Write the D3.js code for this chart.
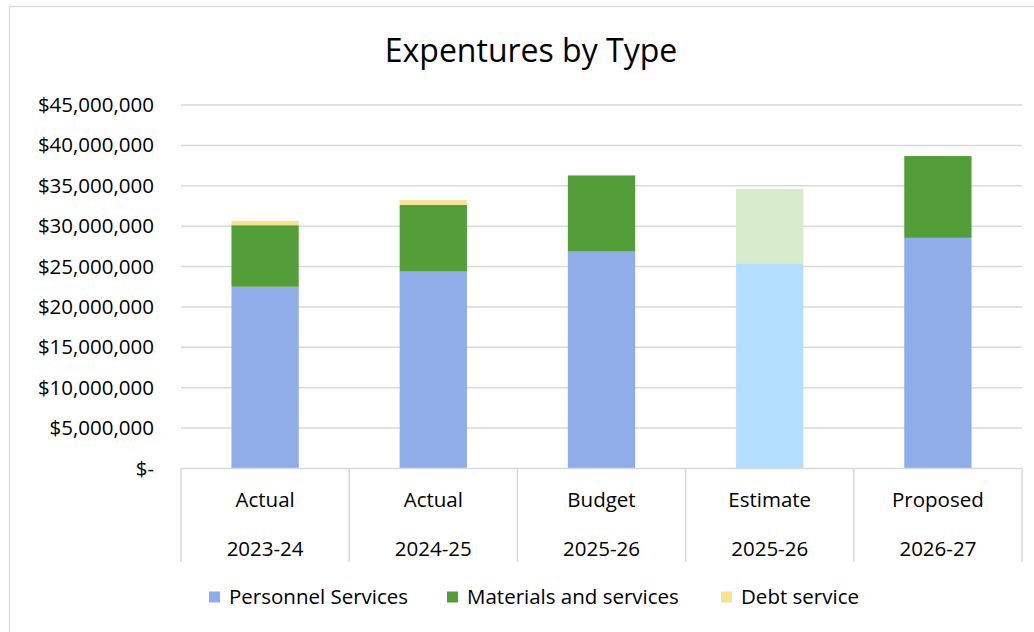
<!DOCTYPE html>
<html>
<head>
<meta charset="utf-8">
<script src="https://cdn.jsdelivr.net/npm/d3@7"></script>
<style>
  html, body { margin: 0; padding: 0; background: #fff; }
  svg { display: block; }
  text { font-family: "Open Sans", "Liberation Sans", sans-serif; fill: #000; }
</style>
</head>
<body>
<svg id="chart" width="1034" height="632"></svg>
<script>
// Expenditures by type, in dollars
const scenarios = ["Actual", "Actual", "Budget", "Estimate", "Proposed"];
const years = ["2023-24", "2024-25", "2025-26", "2025-26", "2026-27"];
const personnel = [22500000, 24380000, 26860000, 25410000, 28550000];
const materials = [7620000, 8260000, 9420000, 9180000, 10130000];
const debt = [540000, 580000, 0, 0, 0];
const seriesNames = ["Personnel Services", "Materials and services", "Debt service"];
const yTicks = [0, 5000000, 10000000, 15000000, 20000000, 25000000, 30000000, 35000000, 40000000, 45000000];

const colors = ["#8fade8", "#549e39", "#f5e48f"];
// the estimate column is drawn in lighter tints
const estimateColors = ["#b3deff", "#d5ebcc", "#fbf3cf"];

const svg = d3.select("#chart");
const W = 1034, H = 632;
const plot = { left: 181, right: 1022, top: 105, bottom: 468.5 };
const bodySize = 20.5;

// outer chart frame
svg.append("rect")
  .attr("x", 9.5).attr("y", 6.5)
  .attr("width", W + 10).attr("height", H + 10)
  .attr("fill", "#fff").attr("stroke", "#d9d9d9").attr("stroke-width", 1.3);

svg.append("text")
  .attr("x", 531).attr("y", 62)
  .attr("text-anchor", "middle")
  .attr("font-size", 32)
  .text("Expentures by Type");

const keys = d3.range(scenarios.length);
const x = d3.scaleBand().domain(keys).range([plot.left, plot.right])
  .paddingInner(0.6).paddingOuter(0.3);
const y = d3.scaleLinear().domain([0, 45000000]).range([plot.bottom, plot.top]);

// gridlines
svg.append("g")
  .selectAll("line")
  .data(yTicks.filter(d => d > 0))
  .join("line")
  .attr("x1", plot.left).attr("x2", plot.right)
  .attr("y1", d => y(d)).attr("y2", d => y(d))
  .attr("stroke", "#d9d9d9").attr("stroke-width", 1.5);

// y axis labels
const fmt = d3.format(",");
const yAxis = d3.axisLeft(y).tickValues(yTicks)
  .tickSize(0).tickPadding(0)
  .tickFormat(d => d === 0 ? "$-" : "$" + fmt(d));
const yg = svg.append("g").attr("transform", `translate(154,0)`).call(yAxis);
yg.select(".domain").remove();
yg.selectAll("text").attr("font-size", bodySize).attr("font-family", '"Open Sans", sans-serif').attr("fill", "#000");

// stacked bars
const table = keys.map(i => ({ i, p: personnel[i], m: materials[i], d: debt[i] }));
const stack = d3.stack().keys(["p", "m", "d"])(table);
svg.append("g")
  .selectAll("g")
  .data(stack)
  .join("g")
  .each(function (layer, si) {
    d3.select(this).selectAll("rect")
      .data(layer.filter(s => s[1] - s[0] > 0))
      .join("rect")
      .attr("x", s => x(s.data.i))
      .attr("width", x.bandwidth())
      .attr("y", s => y(s[1]))
      .attr("height", s => y(s[0]) - y(s[1]))
      .attr("fill", s => scenarios[s.data.i] === "Estimate" ? estimateColors[si] : colors[si]);
  });

// category axis with boxed two-level labels
const axisG = svg.append("g");
const step = x.step();
axisG.append("line")
  .attr("x1", plot.left).attr("x2", plot.right)
  .attr("y1", plot.bottom).attr("y2", plot.bottom)
  .attr("stroke", "#d9d9d9").attr("stroke-width", 1.5);
const dividers = d3.range(scenarios.length + 1).map(k => plot.left + k * step);
axisG.selectAll("line.div")
  .data(dividers)
  .join("line")
  .attr("class", "div")
  .attr("x1", d => d).attr("x2", d => d)
  .attr("y1", plot.bottom).attr("y2", 562)
  .attr("stroke", "#d9d9d9").attr("stroke-width", 1.5);
axisG.selectAll("text.sc")
  .data(keys)
  .join("text")
  .attr("class", "sc")
  .attr("x", i => x(i) + x.bandwidth() / 2)
  .attr("y", 507)
  .attr("text-anchor", "middle")
  .attr("font-size", bodySize)
  .text(i => scenarios[i]);
axisG.selectAll("text.yr")
  .data(keys)
  .join("text")
  .attr("class", "yr")
  .attr("x", i => x(i) + x.bandwidth() / 2)
  .attr("y", 556)
  .attr("text-anchor", "middle")
  .attr("font-size", bodySize)
  .text(i => years[i]);

// legend
const legendX = [209, 447, 721];
const lg = svg.append("g").selectAll("g")
  .data(seriesNames)
  .join("g")
  .attr("transform", (d, i) => `translate(${legendX[i]},597)`);
lg.append("rect")
  .attr("x", 0).attr("y", -5.5).attr("width", 11).attr("height", 11)
  .attr("fill", (d, i) => colors[i]);
lg.append("text")
  .attr("x", 20).attr("y", 7)
  .attr("font-size", bodySize)
  .text(d => d);
</script>
</body>
</html>
